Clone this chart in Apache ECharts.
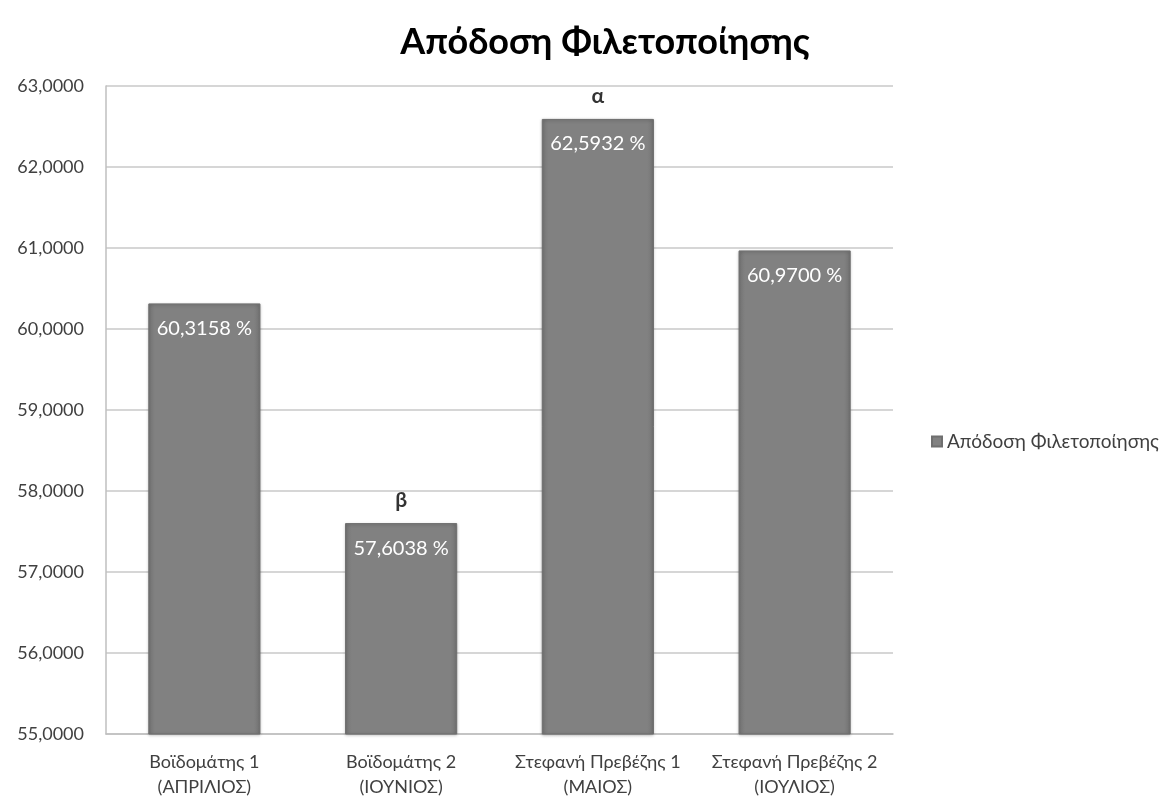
<!DOCTYPE html>
<html>
<head>
<meta charset="utf-8">
<script src="https://cdn.jsdelivr.net/npm/echarts@6/dist/echarts.min.js"></script>
<style>
  html, body { margin: 0; padding: 0; background: #fff; }
  #chart { width: 1170px; height: 803px; }
</style>
</head>
<body>
<div id="chart"></div>
<script>
const categories = [
  'Βοϊδομάτης 1\n(ΑΠΡΙΛΙΟΣ)',
  'Βοϊδομάτης 2\n(ΙΟΥΝΙΟΣ)',
  'Στεφανή Πρεβέζης 1\n(ΜΑΙΟΣ)',
  'Στεφανή Πρεβέζης 2\n(ΙΟΥΛΙΟΣ)'
];
const yields = [60.3158, 57.6038, 62.5932, 60.9700];
const groupLetters = ['', 'β', 'α', ''];
const seriesName = 'Απόδοση Φιλετοποίησης';

const FONT = 'Lato, "Open Sans", sans-serif';
const fmt = v => v.toFixed(4).replace('.', ',');

const chart = echarts.init(document.getElementById('chart'));
chart.setOption({
  backgroundColor: '#ffffff',
  animation: false,
  title: {
    text: 'Απόδοση Φιλετοποίησης',
    left: 600, top: 19, textAlign: 'center',
    textStyle: { fontFamily: FONT, fontSize: 36, fontWeight: 'bold', color: '#000' }
  },
  legend: {
    orient: 'vertical',
    left: 926, top: 427,
    itemWidth: 10, itemHeight: 10, itemGap: 6,
    icon: 'rect',
    textStyle: { fontFamily: FONT, fontSize: 19, color: '#404040' },
    data: [seriesName]
  },
  grid: { left: 106, right: 277, top: 86, bottom: 69 },
  xAxis: {
    type: 'category',
    data: categories,
    axisLine: { lineStyle: { color: '#bfbfbf', width: 1.5 } },
    axisTick: { show: false },
    axisLabel: {
      fontFamily: FONT, fontSize: 18, color: '#404040',
      lineHeight: 25, margin: 16, interval: 0
    }
  },
  yAxis: {
    type: 'value',
    min: 55, max: 63, interval: 1,
    axisLine: { show: true, lineStyle: { color: '#bfbfbf', width: 1.5 } },
    axisTick: { show: false },
    splitLine: { lineStyle: { color: '#c8c8c8', width: 1.5 } },
    axisLabel: {
      fontFamily: FONT, fontSize: 18, color: '#404040', margin: 22,
      formatter: fmt
    }
  },
  series: [
    {
      name: seriesName,
      type: 'bar',
      data: yields,
      barWidth: '57%',
      itemStyle: {
        color: {
          type: 'linear', x: 0, y: 0, x2: 1, y2: 0,
          colorStops: [
            { offset: 0, color: '#747474' },
            { offset: 0.06, color: '#818181' },
            { offset: 0.94, color: '#818181' },
            { offset: 1, color: '#747474' }
          ]
        },
        borderColor: '#6f6f6f',
        borderWidth: 1,
        shadowColor: 'rgba(0,0,0,0.25)',
        shadowBlur: 3,
        shadowOffsetY: 1
      },
      label: {
        show: true,
        position: 'insideTop',
        distance: 15,
        fontFamily: FONT, fontSize: 20, color: '#ffffff',
        formatter: p => fmt(p.value) + ' %'
      }
    },
    {
      // significance letters placed just above the bar tops
      type: 'scatter',
      data: yields,
      symbolSize: 0,
      silent: true,
      label: {
        show: true,
        position: 'top',
        distance: 12,
        fontFamily: FONT, fontSize: 21, fontWeight: 'bold', color: '#000',
        formatter: p => groupLetters[p.dataIndex]
      }
    }
  ]
});
</script>
</body>
</html>
